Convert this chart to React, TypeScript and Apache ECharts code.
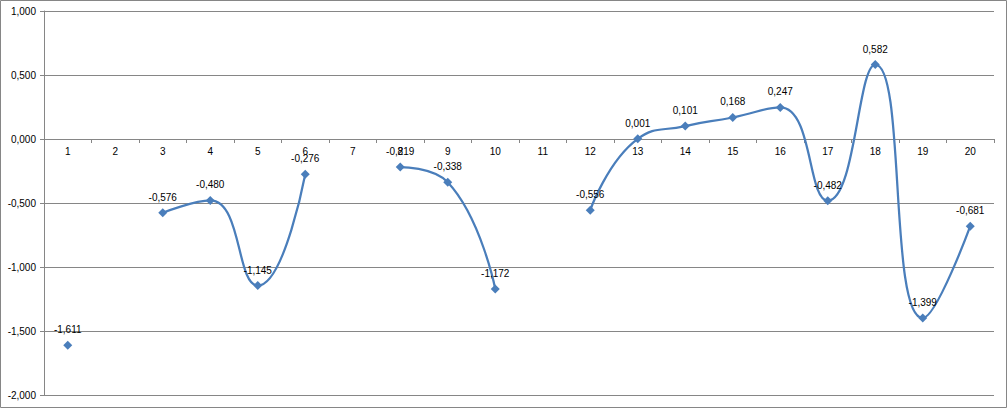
import React, { useEffect, useRef } from "react";
import * as echarts from "echarts";

const categories = ["1","2","3","4","5","6","7","8","9","10","11","12","13","14","15","16","17","18","19","20"];
const values: (number | null)[] = [-1.611, null, -0.576, -0.48, -1.145, -0.276, null, -0.219, -0.338, -1.172, null, -0.556, 0.001, 0.101, 0.168, 0.247, -0.482, 0.582, -1.399, -0.681];
const yMin = -2;
const yMax = 1;
const yStep = 0.5;

const fmt = (v: number) => v.toFixed(3).replace(".", ",");

const W = 1007;
const H = 408;
const GRID = { left: 44, right: 13, top: 11, bottom: 13 };

export default function App() {
  const ref = useRef<HTMLDivElement>(null);
  useEffect(() => {
    if (!ref.current) return;
    const chart = echarts.init(ref.current, undefined, { renderer: "svg" });
    const plotH = H - GRID.top - GRID.bottom;
    const zeroOffset = -((0 - yMin) / (yMax - yMin)) * plotH;
    chart.setOption({
      animation: false,
      backgroundColor: "#ffffff",
      textStyle: { fontFamily: "Liberation Sans, Arial, sans-serif" },
      graphic: [
        {
          type: "rect",
          shape: { x: 0.5, y: 0.5, width: W - 1, height: H - 1 },
          style: { fill: "none", stroke: "#868686", lineWidth: 1 },
          silent: true,
        },
      ],
      grid: { ...GRID, containLabel: false, outerBoundsMode: "none" },
      xAxis: {
        type: "category",
        data: categories,
        boundaryGap: true,
        position: "bottom",
        offset: zeroOffset,
        axisLine: { show: true, onZero: false, lineStyle: { color: "#868686", width: 1 } },
        axisTick: { show: true, alignWithLabel: false, length: 4, inside: false, lineStyle: { color: "#868686" } },
        axisLabel: { color: "#000", fontSize: 10, margin: 7 },
        splitLine: { show: false },
      },
      yAxis: {
        type: "value",
        min: yMin,
        max: yMax,
        interval: yStep,
        axisLine: { show: true, onZero: false, lineStyle: { color: "#868686", width: 1 } },
        axisTick: { show: true, length: 4, lineStyle: { color: "#868686" } },
        axisLabel: { color: "#000", fontSize: 10, margin: 8, formatter: (v: number) => fmt(v) },
        splitLine: { show: true, lineStyle: { color: "#868686", width: 1 } },
      },
      series: [
        {
          type: "line",
          data: values,
          smooth: 0.5,
          connectNulls: false,
          symbol: "diamond",
          symbolSize: 9,
          showSymbol: true,
          showAllSymbol: true,
          lineStyle: { color: "#4a7ebb", width: 2.25 },
          itemStyle: { color: "#4a7ebb" },
          label: {
            show: true,
            position: "top",
            distance: 6,
            color: "#000",
            fontSize: 10,
            formatter: (p: any) => fmt(p.value),
          },
        },
      ],
    });
    return () => chart.dispose();
  }, []);
  return (
    <div
      ref={ref}
      style={{ position: "absolute", left: 0, top: 0, width: W, height: H }}
    />
  );
}
